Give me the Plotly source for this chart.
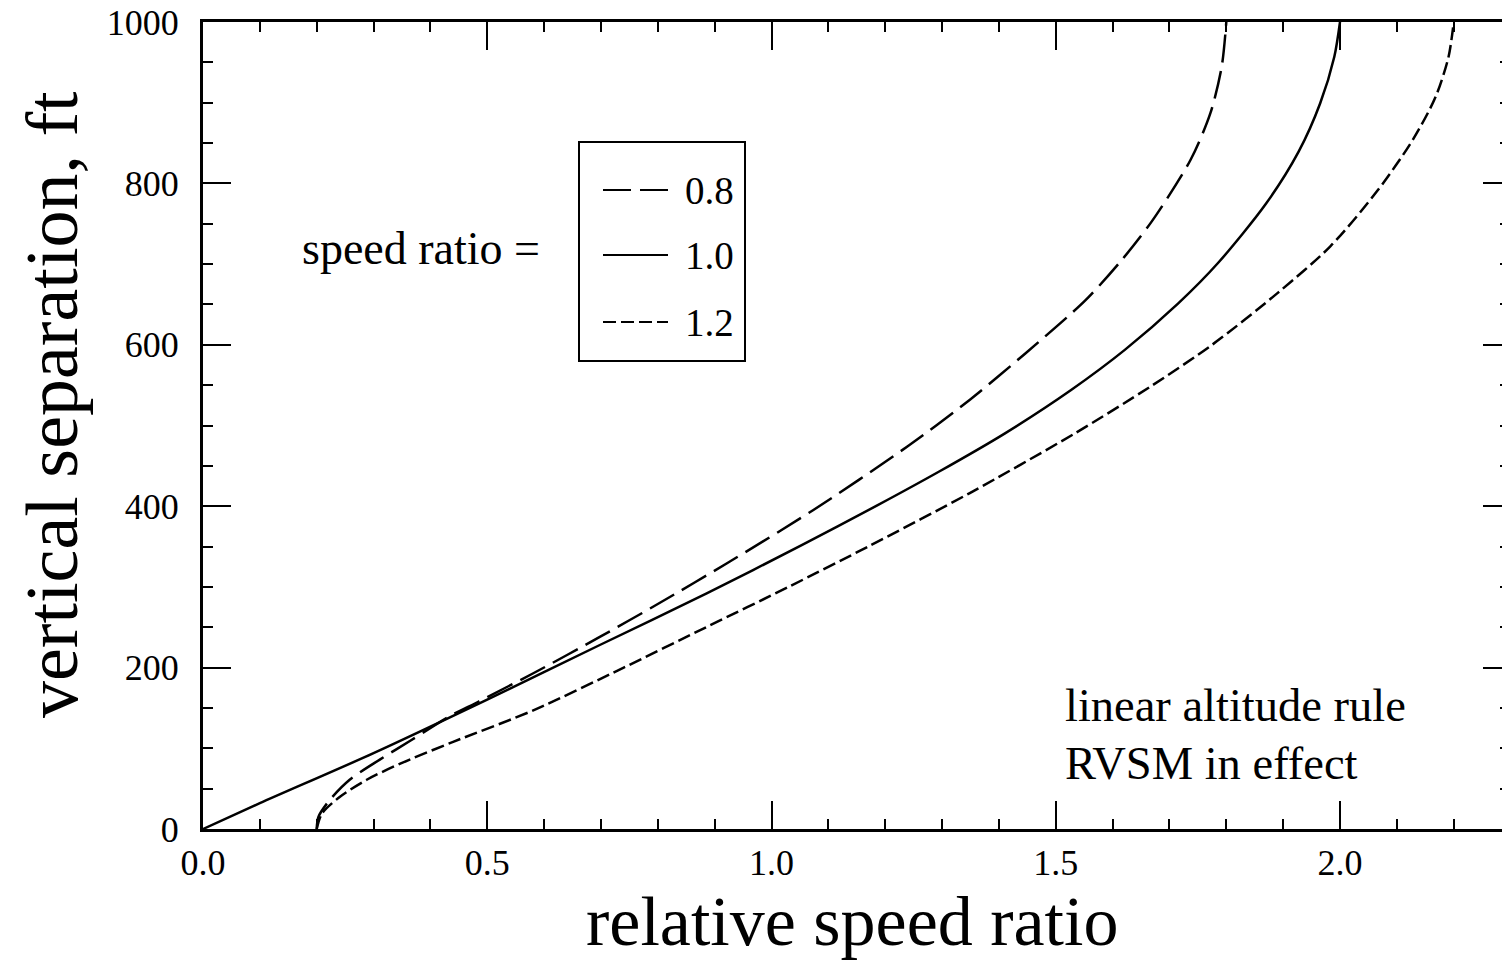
import plotly.graph_objects as go

# ---- data ----
speed_ratio_labels = ["0.8", "1.0", "1.2"]

y_08 = [0, 15, 36, 61, 86, 110, 139, 158, 193, 238, 280, 329, 395, 474, 532, 589, 655, 705, 752, 829, 887, 945, 1000]
x_08 = [0.200, 0.203, 0.223, 0.258, 0.311, 0.366, 0.432, 0.485, 0.581, 0.698, 0.803, 0.921, 1.073, 1.239, 1.349, 1.446, 1.552, 1.616, 1.668, 1.737, 1.772, 1.792, 1.800]

y_10 = [0, 32, 94, 160, 228, 292, 352, 401, 443, 490, 544, 594, 651, 701, 775, 839, 899, 957, 1000]
x_10 = [0.000, 0.100, 0.300, 0.499, 0.698, 0.886, 1.054, 1.186, 1.295, 1.410, 1.527, 1.622, 1.715, 1.785, 1.870, 1.927, 1.965, 1.990, 2.000]

y_12 = [0, 19, 40, 61, 81, 108, 147, 200, 250, 300, 350, 416, 490, 548, 600, 664, 722, 792, 854, 907, 957, 1000]
x_12 = [0.200, 0.209, 0.241, 0.288, 0.347, 0.440, 0.581, 0.740, 0.885, 1.030, 1.170, 1.348, 1.533, 1.666, 1.775, 1.890, 1.983, 2.067, 2.128, 2.168, 2.191, 2.200]

x_major_ticks = [0.0, 0.5, 1.0, 1.5, 2.0]
x_tick_text = ["0.0", "0.5", "1.0", "1.5", "2.0"]
y_major_ticks = [0, 200, 400, 600, 800, 1000]
y_tick_text = ["0", "200", "400", "600", "800", "1000"]

x_title = "relative speed ratio"
y_title = "vertical separation, ft"
legend_title = "speed ratio ="
note_lines = ["linear altitude rule", "RVSM in effect"]

# ---- layout geometry ----
W, H = 1502, 964
L, R, T, B = 203, 0, 22, 135
X_MAX = (W - L - R) / 568.5
FONT = "Liberation Serif, Times New Roman, serif"

series = [
    (x_08, y_08, "28px,9px"),
    (x_10, y_10, "solid"),
    (x_12, y_12, "13px,5px"),
]

fig = go.Figure()
for (xs, ys, dash), name in zip(series, speed_ratio_labels):
    fig.add_trace(go.Scatter(
        x=xs, y=ys, mode="lines", name=name,
        line=dict(color="black", width=2.5, dash=dash, shape="spline", smoothing=0.8),
        showlegend=False, hoverinfo="skip",
    ))
# empty trace so the right-hand tick axis exists
fig.add_trace(go.Scatter(x=[], y=[], yaxis="y2", showlegend=False, hoverinfo="skip"))

plot_w = W - L - R
plot_h = H - T - B


def px_to_data(px, py):
    return (px - L) / plot_w * X_MAX, (H - B - py) / plot_h * 1000.0


# legend box
bx0, by0 = px_to_data(579, 361)
bx1, by1 = px_to_data(745, 142)
fig.add_shape(type="rect", x0=bx0, y0=by0, x1=bx1, y1=by1,
              line=dict(color="black", width=2), fillcolor="rgba(0,0,0,0)")
legend_rows_py = [190, 255, 322]
for (xs, ys, dash), name, py in zip(series, speed_ratio_labels, legend_rows_py):
    lx0, ly = px_to_data(603, py)
    lx1, _ = px_to_data(668, py)
    fig.add_shape(type="line", x0=lx0, x1=lx1, y0=ly, y1=ly,
                  line=dict(color="black", width=2, dash=dash))
    tx, _ = px_to_data(683, py)
    fig.add_annotation(x=tx, y=ly, text=name, showarrow=False, xanchor="left",
                       yanchor="middle", font=dict(family=FONT, size=39, color="black"))

ax_, ay_ = px_to_data(300, 248)
fig.add_annotation(x=ax_, y=ay_, text=legend_title, showarrow=False, xanchor="left",
                   yanchor="middle", font=dict(family=FONT, size=46, color="black"))

for line_text, py in zip(note_lines, [705, 763]):
    nx, ny = px_to_data(1063, py)
    fig.add_annotation(x=nx, y=ny, text=line_text, showarrow=False, xanchor="left",
                       yanchor="middle", font=dict(family=FONT, size=46.5, color="black"))

# axis titles
fig.add_annotation(x=0.5, y=-0.064, xref="paper", yref="paper", text=x_title,
                   showarrow=False, xanchor="center", yanchor="top",
                   font=dict(family=FONT, size=70, color="black"))
fig.add_annotation(x=-(L - 52) / plot_w, y=(H - B - 405) / plot_h, xref="paper", yref="paper",
                   text=y_title, showarrow=False, xanchor="center", yanchor="middle",
                   textangle=-90, font=dict(family=FONT, size=74, color="black"))

tickfont = dict(family=FONT, size=36, color="black")

fig.update_layout(
    xaxis=dict(
        range=[0, X_MAX], tickmode="array", tickvals=x_major_ticks, ticktext=x_tick_text,
        showgrid=False, zeroline=False, showline=True, linecolor="black", linewidth=3,
        ticks="inside", tickcolor="black", tickwidth=2, ticklen=28, mirror="ticks",
        minor=dict(dtick=0.1, tick0=0, ticks="inside", ticklen=10, tickwidth=2, tickcolor="black"),
        tickfont=tickfont, ticklabelstandoff=0,
    ),
    yaxis=dict(
        range=[0, 1000], tickmode="array", tickvals=y_major_ticks, ticktext=y_tick_text,
        showgrid=False, zeroline=False, showline=True, linecolor="black", linewidth=3,
        ticks="inside", tickcolor="black", tickwidth=2, ticklen=28, mirror=False,
        minor=dict(dtick=50, tick0=0, ticks="inside", ticklen=10, tickwidth=2, tickcolor="black"),
        tickfont=tickfont, ticklabelstandoff=14,
    ),
    yaxis2=dict(
        range=[0, 1000], overlaying="y", side="right", tickmode="array", tickvals=y_major_ticks,
        showticklabels=False, showgrid=False, zeroline=False, showline=False,
        ticks="inside", tickcolor="black", tickwidth=2, ticklen=19,
        minor=dict(dtick=50, tick0=0, ticks="inside", ticklen=2, tickwidth=2, tickcolor="black"),
    ),
    width=W, height=H,
    margin=dict(l=L, r=R, t=T, b=B, pad=0),
    paper_bgcolor="white", plot_bgcolor="white",
    showlegend=False,
)

fig.write_html("out.html")
